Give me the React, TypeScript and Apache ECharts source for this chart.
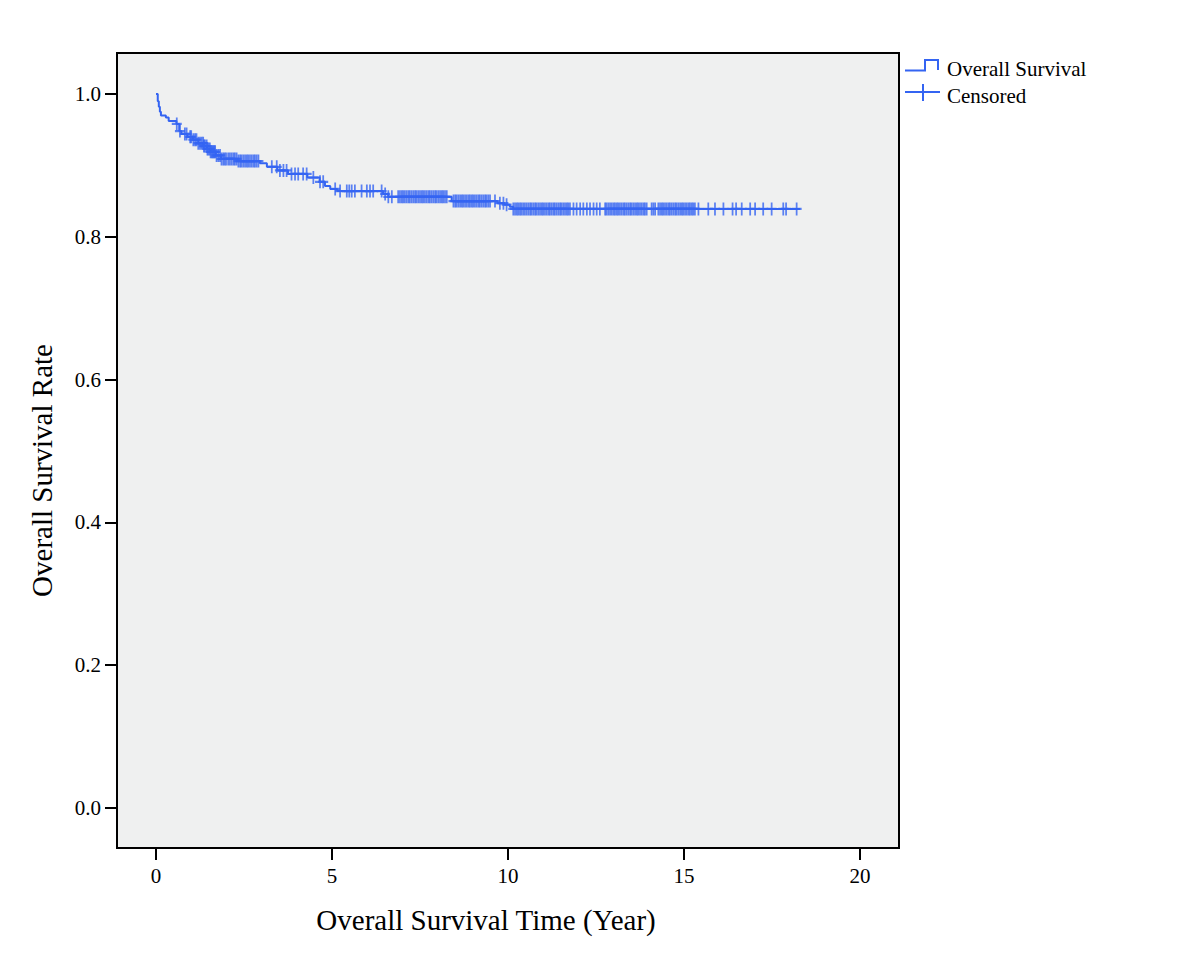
import React, { useEffect, useRef } from 'react';
import * as echarts from 'echarts';

const xTicks = [0, 5, 10, 15, 20];
const yTicks = [0, 0.2, 0.4, 0.6, 0.8, 1.0];

// Kaplan-Meier step points: event time (years) and survival after the event
const stepTimes = [0, 0.05, 0.08, 0.11, 0.14, 0.28, 0.36, 0.58, 0.66, 0.72, 0.9, 1.05, 1.2, 1.35, 1.45, 1.55, 1.7, 1.85, 2.3, 2.95, 3.15, 3.45, 3.75, 4.3, 4.65, 4.8, 4.95, 5.15, 6.45, 6.6, 8.4, 9.7, 9.9, 10.05, 10.15];
const stepSurvival = [1.0, 0.99, 0.982, 0.975, 0.97, 0.967, 0.962, 0.958, 0.948, 0.944, 0.94, 0.936, 0.931, 0.927, 0.923, 0.919, 0.914, 0.909, 0.906, 0.903, 0.898, 0.893, 0.888, 0.883, 0.877, 0.871, 0.867, 0.864, 0.86, 0.856, 0.85, 0.847, 0.845, 0.842, 0.839];
const lastFollowUp = 18.3;

// Censored observation times (years)
const censoredTimes = [
  0.59, 0.68, 0.82, 0.87, 0.97, 1.0, 1.06, 1.11, 1.15, 1.2, 1.25, 1.3, 1.34, 1.36, 1.39, 1.44, 1.46, 1.49, 1.53, 1.55,
  1.58, 1.61, 1.63, 1.66, 1.68, 1.72, 1.77, 1.82, 1.86, 1.91, 1.95, 1.99, 2.05, 2.1, 2.15, 2.2, 2.24, 2.29, 2.34, 2.39,
  2.43, 2.48, 2.53, 2.58, 2.62, 2.67, 2.72, 2.77, 2.81, 2.86, 2.91, 3.29, 3.43, 3.52, 3.62, 3.71, 3.85, 3.95, 4.04, 4.18,
  4.28, 4.47, 4.66, 4.75, 5.09, 5.23, 5.42, 5.49, 5.56, 5.65, 5.84, 5.99, 6.08, 6.17, 6.41, 6.51, 6.6, 6.7, 6.88, 6.93,
  6.98, 7.02, 7.07, 7.12, 7.17, 7.21, 7.26, 7.31, 7.36, 7.4, 7.45, 7.5, 7.55, 7.59, 7.64, 7.69, 7.74, 7.78, 7.83, 7.88,
  7.93, 7.97, 8.02, 8.07, 8.12, 8.16, 8.21, 8.26, 8.45, 8.5, 8.54, 8.59, 8.64, 8.69, 8.73, 8.78, 8.83, 8.88, 8.92, 8.97,
  9.01, 9.06, 9.11, 9.16, 9.2, 9.25, 9.3, 9.35, 9.39, 9.44, 9.49, 9.63, 9.77, 9.87, 9.96, 10.15, 10.2, 10.25, 10.29,
  10.34, 10.38, 10.43, 10.48, 10.53, 10.58, 10.63, 10.67, 10.72, 10.77, 10.81, 10.86, 10.91, 10.96, 11.0, 11.05, 11.1,
  11.15, 11.19, 11.24, 11.29, 11.33, 11.38, 11.43, 11.48, 11.52, 11.57, 11.62, 11.67, 11.71, 11.76, 11.86, 11.95, 12.05,
  12.14, 12.24, 12.33, 12.43, 12.52, 12.61, 12.76, 12.8, 12.85, 12.9, 12.95, 13.0, 13.04, 13.09, 13.13, 13.18, 13.23,
  13.28, 13.32, 13.37, 13.42, 13.47, 13.51, 13.56, 13.61, 13.66, 13.7, 13.75, 13.8, 13.85, 13.89, 13.94, 14.08, 14.13,
  14.18, 14.27, 14.32, 14.37, 14.41, 14.46, 14.51, 14.56, 14.6, 14.65, 14.7, 14.75, 14.79, 14.84, 14.89, 14.94, 14.98,
  15.03, 15.08, 15.13, 15.17, 15.22, 15.26, 15.31, 15.41, 15.69, 15.88, 16.12, 16.38, 16.48, 16.64, 16.88, 17.02, 17.25,
  17.49, 17.82, 17.9, 18.2,
];

const BLUE = '#3464f2';
const FONT = "'Liberation Serif', 'Times New Roman', serif";

function survivalAt(t: number): number {
  let s = stepSurvival[0];
  for (let i = 0; i < stepTimes.length; i++) {
    if (stepTimes[i] <= t) s = stepSurvival[i];
  }
  return s;
}

export default function App() {
  const ref = useRef<HTMLDivElement>(null);
  useEffect(() => {
    if (!ref.current) return;
    const chart = echarts.init(ref.current, null, { renderer: 'svg' });
    const linePts = stepTimes.map((t, i) => [t, stepSurvival[i]]);
    linePts.push([lastFollowUp, survivalAt(lastFollowUp)]);
    const cens = censoredTimes.map((t) => [t, survivalAt(t)]);
    chart.setOption({
      animation: false,
      backgroundColor: '#ffffff',
      grid: {
        left: 117,
        top: 53,
        width: 782,
        height: 795,
        show: true,
        backgroundColor: '#eff0f0',
        borderColor: '#000',
        borderWidth: 2,
      },
      xAxis: {
        type: 'value',
        min: -1.108,
        max: 21.108,
        axisLine: { show: true, onZero: false, lineStyle: { color: '#000', width: 2 } },
        axisTick: { show: true, length: 12, lineStyle: { color: '#000', width: 2 }, customValues: xTicks },
        axisLabel: { customValues: xTicks, fontFamily: FONT, fontSize: 21, color: '#000', margin: 17 },
        splitLine: { show: false },
        name: 'Overall Survival Time (Year)',
        nameLocation: 'middle',
        nameGap: 57,
        nameTextStyle: { fontFamily: FONT, fontSize: 29, color: '#000', padding: [0, 44, 0, 0] },
      },
      yAxis: {
        type: 'value',
        min: -0.056,
        max: 1.0574,
        axisLine: { show: true, onZero: false, lineStyle: { color: '#000', width: 2 } },
        axisTick: { show: true, length: 12, lineStyle: { color: '#000', width: 2 }, customValues: yTicks },
        axisLabel: {
          customValues: yTicks,
          fontFamily: FONT,
          fontSize: 21,
          color: '#000',
          margin: 16,
          formatter: (v: number) => v.toFixed(1),
        },
        splitLine: { show: false },
        name: 'Overall Survival Rate',
        nameLocation: 'middle',
        nameGap: 61,
        nameRotate: 90,
        nameTextStyle: { fontFamily: FONT, fontSize: 29, color: '#000', padding: [0, 40, 0, 0] },
      },
      series: [
        {
          name: 'Overall Survival',
          type: 'line',
          data: linePts,
          step: 'end',
          showSymbol: false,
          lineStyle: { color: BLUE, width: 2 },
          z: 2,
        },
        {
          name: 'Censored',
          type: 'scatter',
          data: cens,
          symbol: 'path://M5,0L5,13M0,6.5L10,6.5',
          symbolSize: [10, 13],
          itemStyle: { color: 'rgba(0,0,0,0)', borderColor: BLUE, borderWidth: 2 },
          z: 3,
        },
      ],
      graphic: [
        {
          type: 'polyline',
          shape: { points: [[905, 70.5], [925, 70.5], [925, 60], [938, 60], [938, 70]] },
          style: { stroke: BLUE, lineWidth: 2, fill: 'none' },
        },
        {
          type: 'text',
          x: 947,
          y: 69,
          style: { text: 'Overall Survival', font: `21px ${FONT}`, fill: '#000', textVerticalAlign: 'middle' },
        },
        {
          type: 'line',
          shape: { x1: 905, y1: 92, x2: 940, y2: 92 },
          style: { stroke: BLUE, lineWidth: 2 },
        },
        {
          type: 'line',
          shape: { x1: 923, y1: 84, x2: 923, y2: 101 },
          style: { stroke: BLUE, lineWidth: 2 },
        },
        {
          type: 'text',
          x: 947,
          y: 96,
          style: { text: 'Censored', font: `21px ${FONT}`, fill: '#000', textVerticalAlign: 'middle' },
        },
      ],
    });
    return () => chart.dispose();
  }, []);
  return <div ref={ref} style={{ position: 'absolute', left: 0, top: 0, width: 1200, height: 960 }} />;
}
